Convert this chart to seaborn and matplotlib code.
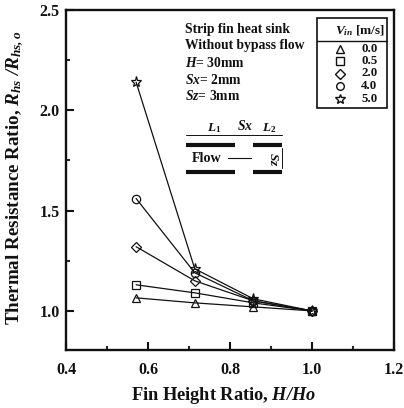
import matplotlib
matplotlib.use("Agg")
import matplotlib.pyplot as plt
from matplotlib.lines import Line2D
from matplotlib.patches import Rectangle
from matplotlib.transforms import Affine2D
import pandas as pd
import seaborn as sns

height_ratio = [0.571, 0.714, 0.857, 1.0]
v_00 = [1.065, 1.04, 1.02, 1.0]
v_05 = [1.13, 1.09, 1.04, 1.0]
v_20 = [1.32, 1.15, 1.05, 1.0]
v_40 = [1.56, 1.19, 1.05, 1.0]
v_50 = [2.14, 1.21, 1.06, 1.0]
labels = ["0.0", "0.5", "2.0", "4.0", "5.0"]
marker_list = ["^", "s", "D", "o", "*"]
x_ticks = [0.4, 0.6, 0.8, 1.0, 1.2]
y_ticks = [1.0, 1.5, 2.0, 2.5]

sns.set_theme(style="white")
plt.rcParams.update({
    "font.family": ["Liberation Serif", "DejaVu Serif"],
    "font.weight": "bold",
    "mathtext.fontset": "custom",
    "mathtext.rm": "Liberation Serif:bold",
    "mathtext.it": "Liberation Serif:italic:bold",
    "mathtext.bf": "Liberation Serif:bold",
    "mathtext.bfit": "Liberation Serif:italic:bold",
})

W, H = 404, 408
fig = plt.figure(figsize=(W / 100, H / 100), dpi=100)
ax = fig.add_axes([66 / W, 1 - 350 / H, 328 / W, 340 / H])

df = pd.DataFrame({
    "x": height_ratio * 5,
    "y": v_00 + v_05 + v_20 + v_40 + v_50,
    "v": sum(([l] * 4 for l in labels), []),
})
sizes = {"^": 6, "s": 6, "D": 5.5, "o": 6, "*": 8}
for lab, mk in zip(labels, marker_list):
    sns.lineplot(data=df[df.v == lab], x="x", y="y", ax=ax, color="#111111", lw=0.9,
                 marker=mk, markersize=sizes[mk], markerfacecolor="none",
                 markeredgecolor="#111111", markeredgewidth=0.9, legend=False,
                 errorbar=None, clip_on=False)

ax.set_xlim(0.4, 1.2)
ax.set_ylim(0.805, 2.5)
ax.set_xticks(x_ticks)
ax.set_yticks(y_ticks)
ax.set_xticks([0.5, 0.7, 0.9, 1.1], minor=True)
ax.set_yticks([1.25, 1.75, 2.25], minor=True)
ax.tick_params(which="major", direction="in", length=6, width=1.5, labelsize=11.5,
               bottom=True, left=True, colors="#111111")
ax.tick_params(axis="x", which="major", pad=9)
ax.tick_params(axis="y", which="major", pad=4.5)
ax.tick_params(which="minor", direction="in", length=3, width=1.5, bottom=True, left=True)
for s in ax.spines.values():
    s.set_linewidth(1.7)
    s.set_color("#111111")
ax.set_xlabel("")
ax.set_ylabel("")

# pixel coordinates, origin at top left of the figure
px = Affine2D().scale(1 / W, -1 / H).translate(0, 1) + fig.transFigure

def T(x, y, s, size=9.8, **kw):
    fig.text(x, y, s, transform=px, fontsize=size, va="center", color="#111111", **kw)

fig.text(224, 396, r"Fin Height Ratio, $\mathbfit{H/Ho}$", transform=px, fontsize=13.2,
         ha="center", va="center", color="#111111")
fig.text(15, 178, r"Thermal Resistance Ratio, $\mathbfit{R_{hs}\ /R_{hs,o}}$", transform=px,
         fontsize=13.7, rotation=90, ha="center", va="center", color="#111111")

for y, s in zip([29, 46, 63, 80, 96],
                ["Strip fin heat sink", "Without bypass flow", r"$\mathit{H}$= 30mm",
                 r"$\mathit{Sx}$= 2mm", r"$\mathit{Sz}$= 3mm"]):
    T(185, y, s)

# legend box
fig.add_artist(Rectangle((317, 18), 70, 90, transform=px, fill=False, ec="#111111", lw=1.2))
fig.add_artist(Line2D([317, 387], [41, 41], transform=px, color="#111111", lw=1.0))
T(335, 31, r"$\mathit{V_{in}}$ [m/s]", size=9.6)
for y, lab, mk in zip([49, 61, 73.5, 86, 99], labels, marker_list):
    fig.add_artist(Line2D([340], [y], transform=px, marker=mk, ms=sizes[mk] - 0.5, mfc="none",
                          mec="#111111", mew=1.0, ls="none"))
    T(361, y, lab, size=9.3)

# schematic
for x0, x1, y in [(186, 235, 145), (253, 282, 145), (186, 235, 172), (253, 282, 172)]:
    fig.add_artist(Line2D([x0, x1], [y, y], transform=px, color="#111111", lw=3, solid_capstyle="butt"))
for x0, x1 in [(186, 235), (235, 253), (253, 282)]:
    fig.add_artist(Line2D([x0, x1], [135, 135], transform=px, color="#111111", lw=0.7))
fig.add_artist(Line2D([282, 282], [148, 168], transform=px, color="#111111", lw=0.7))
T(207, 128, r"$\mathit{L}_1$", size=9.5)
T(237, 126, r"$\mathit{Sx}$", size=9.8)
T(262, 128, r"$\mathit{L}_2$", size=9.5)
T(192, 158, "Flow", size=10.2)
fig.add_artist(Line2D([228, 251], [158, 158], transform=px, color="#111111", lw=0.8))
T(267, 159, r"$\mathit{Sz}$", size=9.5, rotation=-90, ha="left")

fig.savefig("out.png", dpi=100)
